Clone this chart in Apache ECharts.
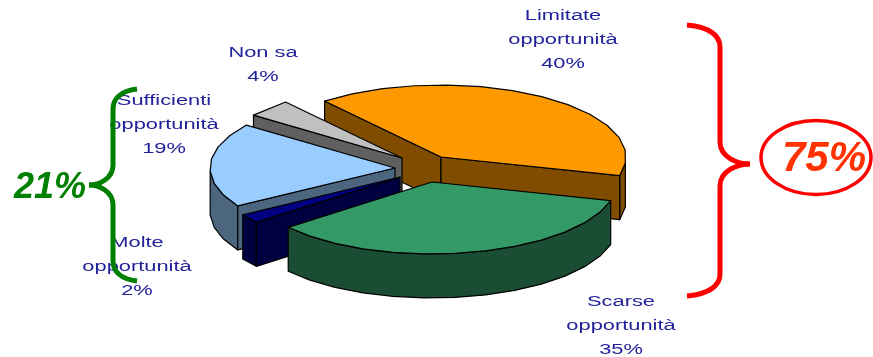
<!DOCTYPE html>
<html>
<head>
<meta charset="utf-8">
<style>html,body{margin:0;padding:0;background:#fff}#chart{width:873px;height:357px}</style>
<script src="https://cdn.jsdelivr.net/npm/echarts@6/dist/echarts.min.js"></script>
</head>
<body>
<div id="chart"></div>
<script>
// Survey answers, share of respondents in percent
const categories = ['Limitate\nopportunità', 'Scarse\nopportunità', 'Molte\nopportunità', 'Sufficienti\nopportunità', 'Non sa'];
const shares = [40, 35, 2, 19, 4];

// Slice appearance, in the same order as the categories
const topColors = ['#FF9900', '#339966', '#000080', '#99CCFF', '#C0C0C0'];
const sideColors = ['#804D00', '#1A4D33', '#000040', '#4D6680', '#606060'];
const sliceCentres = [[441, 157], [432, 182], [400, 177], [395, 168], [402, 158]];
const labelCentres = [[563, 16], [621, 302], [137, 243], [164, 101], [263, 53]];
// Painter's order: back slices first
const paintOrder = [0, 4, 3, 2, 1];

const RX = 185, RY = 72, DEPTH = 44, START_ANGLE = 129, FACET = 10;
const OUTLINE = '#000';
const LABEL_COLOR = '#22229A';

function sliceAngles(index) {
  const total = shares.reduce((a, b) => a + b, 0);
  const before = shares.slice(0, index).reduce((a, b) => a + b, 0);
  const from = START_ANGLE - before / total * 360;
  return [from, from - shares[index] / total * 360];
}

function outlinePoints(index) {
  const [from, to] = sliceAngles(index);
  const [cx, cy] = sliceCentres[index];
  const pts = [];
  const steps = Math.max(1, Math.round((from - to) / FACET));
  for (let i = 0; i <= steps; i++) {
    const a = (from + (to - from) * i / steps) * Math.PI / 180;
    pts.push([cx + RX * Math.cos(a), cy - RY * Math.sin(a)]);
  }
  return { apex: [cx, cy], arc: pts };
}

function extrude(points) {
  const lower = points.slice().reverse().map(p => [p[0], p[1] + DEPTH]);
  return points.concat(lower);
}

function renderSlice(params, api) {
  const index = api.value(0);
  const { apex, arc } = outlinePoints(index);
  const children = [];
  const style = (fill) => ({ fill: fill, stroke: OUTLINE, lineWidth: 1.2, lineJoin: 'round' });
  const wall = (points, fill) => children.push({ type: 'polygon', shape: { points: extrude(points) }, style: style(fill) });

  // The outline runs clockwise, so a wall faces the viewer when its edge heads left
  const rim = [];
  arc.forEach((p, i) => {
    const q = arc[i + 1];
    if (q && q[0] < p[0]) {
      if (!rim.length) rim.push(p);
      rim.push(q);
    }
  });
  if (rim.length) wall(rim, sideColors[index]);
  const first = arc[0], last = arc[arc.length - 1];
  if (first[0] < apex[0]) wall([apex, first], sideColors[index]);
  if (apex[0] < last[0]) wall([last, apex], sideColors[index]);

  children.push({ type: 'polygon', shape: { points: [apex].concat(arc) }, style: style(topColors[index]) });
  return { type: 'group', children: children };
}

function renderLabel(params, api) {
  const index = api.value(0);
  const [x, y] = labelCentres[index];
  return {
    type: 'text',
    x: x,
    y: y,
    scaleX: 1.56,
    style: {
      text: categories[index] + '\n' + shares[index] + '%',
      fill: LABEL_COLOR,
      font: '14px "Liberation Sans", Arial, sans-serif',
      lineHeight: 24,
      align: 'center',
      verticalAlign: 'top',
      y: -12
    }
  };
}

// Curly brace pointing at its tip, assembled from four curves and two straight runs
function brace(color, top, spineX, tipX, tipY, bottom, shoulder, reach) {
  const lineStyle = { fill: 'none', stroke: color, lineWidth: 5 };
  const openX = spineX + reach;
  const curve = (x1, y1, cx1, cy1, cx2, cy2, x2, y2) => ({
    type: 'bezierCurve', z: 10,
    shape: { x1, y1, cpx1: cx1, cpy1: cy1, cpx2: cx2, cpy2: cy2, x2, y2 },
    style: lineStyle
  });
  const run = (y1, y2) => ({
    type: 'line', z: 10,
    shape: { x1: spineX, y1, x2: spineX, y2 },
    style: lineStyle
  });
  return [
    curve(openX, top, spineX + reach * 0.3, top + 2, spineX, top + shoulder * 0.5, spineX, top + shoulder),
    run(top + shoulder, tipY - shoulder),
    curve(spineX, tipY - shoulder, spineX, tipY - shoulder * 0.3, tipX - (tipX - spineX) * 0.4, tipY, tipX, tipY),
    curve(tipX, tipY, tipX - (tipX - spineX) * 0.4, tipY, spineX, tipY + shoulder * 0.3, spineX, tipY + shoulder),
    run(tipY + shoulder, bottom - shoulder),
    curve(spineX, bottom - shoulder, spineX, bottom - shoulder * 0.5, spineX + reach * 0.3, bottom - 2, openX, bottom)
  ];
}

const chart = echarts.init(document.getElementById('chart'), null, { renderer: 'canvas' });
chart.setOption({
  animation: false,
  backgroundColor: '#fff',
  series: [
    { type: 'custom', coordinateSystem: 'none', renderItem: renderSlice, data: paintOrder.map(i => [i]), silent: true, z: 2 },
    { type: 'custom', coordinateSystem: 'none', renderItem: renderLabel, data: categories.map((_, i) => [i]), silent: true, z: 3 }
  ],
  graphic: [
    ...brace('#FF0000', 25, 720, 750, 164, 296, 22, -33),
    {
      type: 'ellipse', z: 10,
      shape: { cx: 816, cy: 157.5, rx: 55, ry: 37 },
      style: { fill: 'none', stroke: '#FF0000', lineWidth: 3.5 }
    },
    {
      type: 'text', z: 11, x: 824, y: 159,
      style: { text: '75%', fill: '#FF3300', font: 'italic bold 42px "Liberation Sans", Arial, sans-serif', align: 'center', verticalAlign: 'middle' }
    },
    ...brace('#008000', 89, 113, 89, 185, 281, 20, 24),
    {
      type: 'text', z: 11, x: 50, y: 188,
      style: { text: '21%', fill: '#008000', font: 'italic bold 36px "Liberation Sans", Arial, sans-serif', align: 'center', verticalAlign: 'middle' }
    }
  ]
});
</script>
</body>
</html>
